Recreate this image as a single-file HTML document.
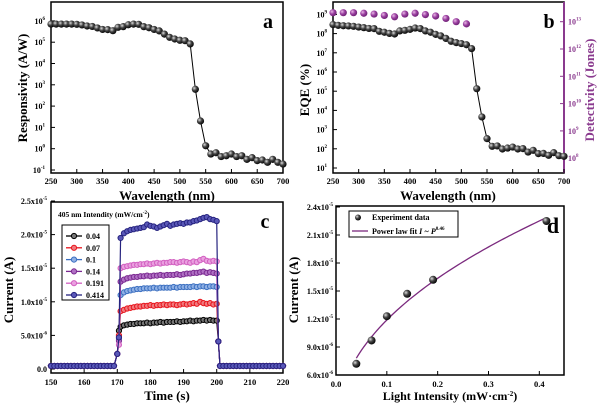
<!DOCTYPE html>
<html><head><meta charset="utf-8"><style>
body{margin:0;background:#fff}
svg{display:block;font-family:"Liberation Serif",serif;font-weight:bold}
</style></head><body>
<svg id="fig" width="600" height="406" viewBox="0 0 600 406">
<defs>
<radialGradient id="ball" cx="0.35" cy="0.35" r="0.7"><stop offset="0" stop-color="#ddd"/><stop offset="0.45" stop-color="#444"/><stop offset="1" stop-color="#000"/></radialGradient>
<radialGradient id="pball" cx="0.35" cy="0.35" r="0.7"><stop offset="0" stop-color="#e9b8e6"/><stop offset="0.5" stop-color="#9a3fa0"/><stop offset="1" stop-color="#6a1f70"/></radialGradient>
</defs>
</svg>
<script>
// ---------- data ----------
const wavelengths = [250,260,270,280,290,300,310,320,330,340,350,360,370,380,390,400,410,420,430,440,450,460,470,480,490,500,510,520,530,540,550,560,570,580,590,600,610,620,630,640,650,660,670,680,690,700];
const respLog = [5.85,5.85,5.85,5.85,5.85,5.84,5.81,5.76,5.74,5.67,5.60,5.59,5.54,5.70,5.73,5.82,5.85,5.84,5.73,5.68,5.60,5.53,5.38,5.23,5.15,5.09,5.07,4.92,2.79,1.30,0.14,-0.25,-0.19,-0.37,-0.33,-0.25,-0.37,-0.33,-0.50,-0.42,-0.56,-0.53,-0.64,-0.50,-0.64,-0.72];
const eqeLog = [8.47,8.43,8.41,8.40,8.38,8.34,8.31,8.27,8.26,8.12,8.07,8.01,7.98,8.14,8.17,8.22,8.29,8.26,8.14,8.07,7.96,7.88,7.75,7.60,7.53,7.48,7.42,7.22,5.13,3.66,2.53,2.13,2.15,1.99,2.04,2.09,1.99,2.01,1.83,1.92,1.75,1.76,1.66,1.80,1.64,1.61];
const detWl = [250,270,290,310,330,350,370,390,410,430,450,470,490,510];
const detLog = [13.33,13.33,13.33,13.31,13.28,13.23,13.18,13.28,13.31,13.26,13.21,13.12,13.0,12.92];
const seriesLabels = ["0.04","0.07","0.1","0.14","0.191","0.414"];
const onTimes = [171,172,173,174,175,176,177,178,179,180,181,182,183,184,185,186,187,188,189,190,191,192,193,194,195,196,197,198,199,200];
const s004 = [6.3,6.5,6.6,6.7,6.7,6.8,6.8,6.8,6.9,6.8,6.9,6.9,7.0,6.9,7.0,7.0,7.0,7.1,7.0,7.1,7.1,7.2,7.1,7.2,7.2,7.3,7.2,7.3,7.2,7.2];
const s007 = [8.6,8.8,9.0,9.1,9.2,9.3,9.3,9.4,9.4,9.5,9.4,9.5,9.5,9.6,9.5,9.6,9.6,9.5,9.6,9.7,9.6,9.7,9.8,9.7,10.0,9.8,9.7,9.8,9.6,9.7];
const s01 = [11.0,11.4,11.6,11.7,11.8,11.9,11.9,12.0,12.0,12.0,12.1,12.0,12.1,12.1,12.1,12.1,12.2,12.1,12.2,12.2,12.2,12.2,12.3,12.2,12.3,12.3,12.2,12.3,12.3,12.2];
const s014 = [13.0,13.3,13.5,13.6,13.7,13.7,13.8,13.8,13.9,13.8,13.9,13.9,14.0,13.9,14.0,14.0,14.0,14.1,14.0,14.1,14.2,14.2,14.3,14.3,14.4,14.5,14.3,14.4,14.3,14.2];
const s0191 = [15.0,15.2,15.3,15.4,15.5,15.5,15.6,15.6,15.7,15.6,15.7,15.8,15.7,15.8,15.8,15.9,15.9,15.8,15.9,16.0,15.9,15.8,16.0,15.9,16.2,16.4,16.1,16.0,16.1,16.0];
const s0414 = [19.5,20.2,20.5,20.7,20.8,20.9,21.0,21.1,21.5,21.3,21.2,21.0,21.2,21.4,21.6,21.3,21.5,21.6,21.7,21.6,21.8,21.8,22.0,22.1,22.3,22.5,22.6,22.3,22.2,22.0];
const riseVals = [5.7,5.0,4.5,4.2,3.6,4.7];
const offVal = 0.45;
const intensities = [0.04,0.07,0.1,0.14,0.191,0.414];
const currents = [7.2e-6,9.7e-6,1.23e-5,1.47e-5,1.62e-5,2.25e-5];
const fitA = 3.43e-5, fitB = 0.46;

// ---------- helpers ----------
const svg = document.getElementById('fig');
const NS = 'http://www.w3.org/2000/svg';
function mk(tag, attrs, parent){ const e=document.createElementNS(NS,tag); for(const k in attrs) e.setAttribute(k,attrs[k]); (parent||svg).appendChild(e); return e; }
function txt(x,y,s,size,anchor,parent){ const t=mk('text',{x:x,y:y,'font-size':size,'text-anchor':anchor||'middle'},parent); t.textContent=s; return t; }
function sup(t, base, exp){ t.textContent=''; const a=document.createElementNS(NS,'tspan'); a.textContent=base; t.appendChild(a); const b=document.createElementNS(NS,'tspan'); b.setAttribute('dy','-4'); b.setAttribute('font-size','5'); b.textContent=exp; t.appendChild(b); }

// ===== Panel a =====
const xA = w => 51 + (w-250)*232/450;
const yA = k => 170 - 21.3*(k+1);
const gA = mk('g',{});


const frA = mk('rect',{x:51,y:2,width:232,height:171,fill:'none',stroke:'#000','stroke-width':1.5},gA);


for(let w=250; w<=700; w+=50){ mk('line',{x1:xA(w),x2:xA(w),y1:173,y2:169,stroke:'#000'},gA); const t=txt(xA(w),184,String(w),8.5,'middle',gA);   }
for(let k=-1;k<=6;k++){ mk('line',{x1:51,x2:55,y1:yA(k),y2:yA(k),stroke:'#000'},gA); const t=txt(45,yA(k)+3,'',8,'end',gA); sup(t,'10',String(k));   }
const pa = wavelengths.map((w,i)=>xA(w)+','+yA(respLog[i])).join(' ');
const la = mk('polyline',{points:pa,fill:'none',stroke:'#000','stroke-width':1},gA);


wavelengths.forEach((w,i)=>{ const c=mk('circle',{cx:xA(w),cy:yA(respLog[i]),r:3.6,fill:'url(#ball)'},gA);

 });
let t;
t=txt(167,200,'Wavelength (nm)',13,'middle',gA);  
t=txt(0,0,'Responsivity (A/W)',13,'middle',gA); t.setAttribute('transform','translate(27,88) rotate(-90)');  
t=txt(268,28,'a',20,'middle',gA);  

// ===== Panel b =====
const xB = w => 333 + (w-250)*231/450;
const yB = k => 168 - 19.2*(k-1);
const yD = k => 21.7 + (13-k)*27.3;
const gB = mk('g',{});


const frB = mk('rect',{x:333,y:2,width:231,height:171,fill:'none',stroke:'#000','stroke-width':1.5},gB);


mk('line',{x1:564,x2:564,y1:2,y2:173,stroke:'#8a3a8e','stroke-width':2},gB);
for(let w=250; w<=700; w+=50){ mk('line',{x1:xB(w),x2:xB(w),y1:173,y2:169,stroke:'#000'},gB); t=txt(xB(w),184,String(w),8.5,'middle',gB);   }
for(let k=1;k<=9;k++){ mk('line',{x1:333,x2:337,y1:yB(k),y2:yB(k),stroke:'#000'},gB); t=txt(327,yB(k)+3,'',8,'end',gB); sup(t,'10',String(k));   }
for(let k=8;k<=13;k++){ mk('line',{x1:564,x2:560,y1:yD(k),y2:yD(k),stroke:'#8a3a8e'},gB); t=txt(568,yD(k)+3,'',8,'start',gB); sup(t,'10',String(k)); t.setAttribute('fill','#8a3a8e');   }
const pb = wavelengths.map((w,i)=>xB(w)+','+yB(eqeLog[i])).join(' ');
const lb = mk('polyline',{points:pb,fill:'none',stroke:'#000','stroke-width':1},gB);


wavelengths.forEach((w,i)=>{ const c=mk('circle',{cx:xB(w),cy:yB(eqeLog[i]),r:3.6,fill:'url(#ball)'},gB);

 });
detWl.forEach((w,i)=>{ const c=mk('circle',{cx:xB(w),cy:yD(detLog[i]),r:3.6,fill:'url(#pball)'},gB);

 });
t=txt(448,200,'Wavelength (nm)',13,'middle',gB);  
t=txt(0,0,'EQE (%)',13,'middle',gB); t.setAttribute('transform','translate(309,90) rotate(-90)');  
t=txt(0,0,'Detectivity (Jones)',13,'middle',gB); t.setAttribute('fill','#8a3a8e'); t.setAttribute('transform','translate(594,90) rotate(-90)');  
t=txt(549,28,'b',20,'middle',gB);  

// ===== Panel c =====
const xC = s => 51 + (s-150)*232/70;
const yC = v => 369 - v*33.6/5; // v in 1e-6 A
const gC = mk('g',{});


const frC = mk('rect',{x:51,y:202,width:232,height:171,fill:'none',stroke:'#000','stroke-width':1.5},gC);


for(let s=150;s<=220;s+=10){ mk('line',{x1:xC(s),x2:xC(s),y1:373,y2:369,stroke:'#000'},gC); t=txt(xC(s),385,String(s),8.5,'middle',gC);   }
const cyt=[0,5,10,15,20,25];
cyt.forEach(v=>{ mk('line',{x1:51,x2:55,y1:yC(v),y2:yC(v),stroke:'#000'},gC);
 t=txt(47,yC(v)+3,'',8,'end',gC);
 if(v===0){ t.textContent='0.0'; } else if(v<10){ sup(t,'5.0x10','-6'); } else { sup(t,(v/10).toFixed(1)+'x10','-5'); }
   });
const colors=['#000','#e8141c','#3b6fc0','#7b2a91','#d25fc0','#26237f'];
const fills=['#777','#f07a7e','#8fb0e4','#b070c4','#eaa0e0','#5a58b8'];
const allSeries=[s004,s007,s01,s014,s0191,s0414];
allSeries.forEach((ser,si)=>{
 const pts=[];
 for(let s=150;s<=169;s++) pts.push([s,offVal]);
 pts.push([170,offVal*5]);
 pts.push([170.5,riseVals[si]]);
 onTimes.forEach((s,i)=>pts.push([s,ser[i]]));
 pts.push([200.5,4.1]);
 for(let s=201;s<=220;s++) pts.push([s,offVal]);
 const pl=mk('polyline',{points:pts.map(p=>xC(p[0])+','+yC(p[1])).join(' '),fill:'none',stroke:colors[si],'stroke-width':1.2},gC);
 
 
 pts.forEach(p=>{ const c=mk('circle',{cx:xC(p[0]),cy:yC(p[1]),r:2.6,fill:fills[si],stroke:colors[si],'stroke-width':1},gC);
 
  });
});
t=txt(58,217,'',7.5,'start',gC); t.textContent='405 nm Intendity (mW/cm'; const ts=document.createElementNS(NS,'tspan'); ts.setAttribute('dy','-3'); ts.setAttribute('font-size','5'); ts.textContent='-2'; t.appendChild(ts); const ts2=document.createElementNS(NS,'tspan'); ts2.setAttribute('dy','3'); ts2.textContent=')'; t.appendChild(ts2);
 
const lgC=mk('rect',{x:62,y:225,width:47,height:75,fill:'#fff',stroke:'#000','stroke-width':1},gC);


seriesLabels.forEach((lab,i)=>{ const y=236+i*11.8;
 mk('line',{x1:66,x2:82,y1:y,y2:y,stroke:colors[i],'stroke-width':1.3},gC);
 const c=mk('circle',{cx:74,cy:y,r:2.6,fill:fills[i],stroke:colors[i]},gC);
 
 
 const tt=txt(86,y+3,lab,8,'start',gC);
 
  });
t=txt(167,400,'Time (s)',13,'middle',gC);  
t=txt(0,0,'Current (A)',13,'middle',gC); t.setAttribute('transform','translate(13,290) rotate(-90)');  
t=txt(265,228,'c',20,'middle',gC);  

// ===== Panel d =====
const xDd = p => 336 + p*508.3;
const yDd = v => 375 - (v-6e-6)/3e-6*28;
const gD = mk('g',{});


const frD = mk('rect',{x:336,y:206,width:228,height:169,fill:'none',stroke:'#000','stroke-width':1.5},gD);


for(let i=0;i<=4;i++){ const p=i/10; mk('line',{x1:xDd(p),x2:xDd(p),y1:375,y2:371,stroke:'#000'},gD); t=txt(xDd(p),387,p.toFixed(1),8.5,'middle',gD);   }
const dyt=[6,9,12,15,18,21,24];
dyt.forEach(v=>{ const y=yDd(v*1e-6); mk('line',{x1:336,x2:340,y1:y,y2:y,stroke:'#000'},gD);
 t=txt(333,y+3,'',8,'end',gD); if(v<10) sup(t,v.toFixed(1)+'x10','-6'); else sup(t,(v/10).toFixed(1)+'x10','-5');
   });
const fitPts=[]; for(let p=0.04;p<=0.4141;p+=0.005) fitPts.push(xDd(p)+','+yDd(fitA*Math.pow(p,fitB)));
const fl=mk('polyline',{points:fitPts.join(' '),fill:'none',stroke:'#7b2a7e','stroke-width':1.3},gD);


intensities.forEach((p,i)=>{ const c=mk('circle',{cx:xDd(p),cy:yDd(currents[i]),r:4,fill:'url(#ball)'},gD);

 });
const lgD=mk('rect',{x:349,y:211,width:109,height:26,fill:'#fff',stroke:'#000','stroke-width':1},gD);


const lc=mk('circle',{cx:358,cy:217.5,r:3,fill:'url(#ball)'},gD);


t=txt(372,220,'Experiment data',8,'start',gD);  
mk('line',{x1:352,x2:368,y1:231,y2:231,stroke:'#7b2a7e','stroke-width':1.3},gD);
t=txt(372,234,'',8,'start',gD); t.textContent='Power law fit '; const it=document.createElementNS(NS,'tspan'); it.setAttribute('font-style','italic'); it.textContent='I ~ P'; t.appendChild(it); const ex=document.createElementNS(NS,'tspan'); ex.setAttribute('dy','-4'); ex.setAttribute('font-size','5'); ex.textContent=String(fitB); t.appendChild(ex);
 
t=txt(450,400,'',12,'middle',gD); t.textContent='Light Intensity (mW·cm'; const e2=document.createElementNS(NS,'tspan'); e2.setAttribute('dy','-4'); e2.setAttribute('font-size','7'); e2.textContent='-2'; t.appendChild(e2); const e3=document.createElementNS(NS,'tspan'); e3.setAttribute('dy','4'); e3.textContent=')'; t.appendChild(e3);
 
t=txt(0,0,'Current (A)',13,'middle',gD); t.setAttribute('transform','translate(298,290) rotate(-90)');  
t=txt(553,233,'d',22,'middle',gD);  
</script>
</body></html>
